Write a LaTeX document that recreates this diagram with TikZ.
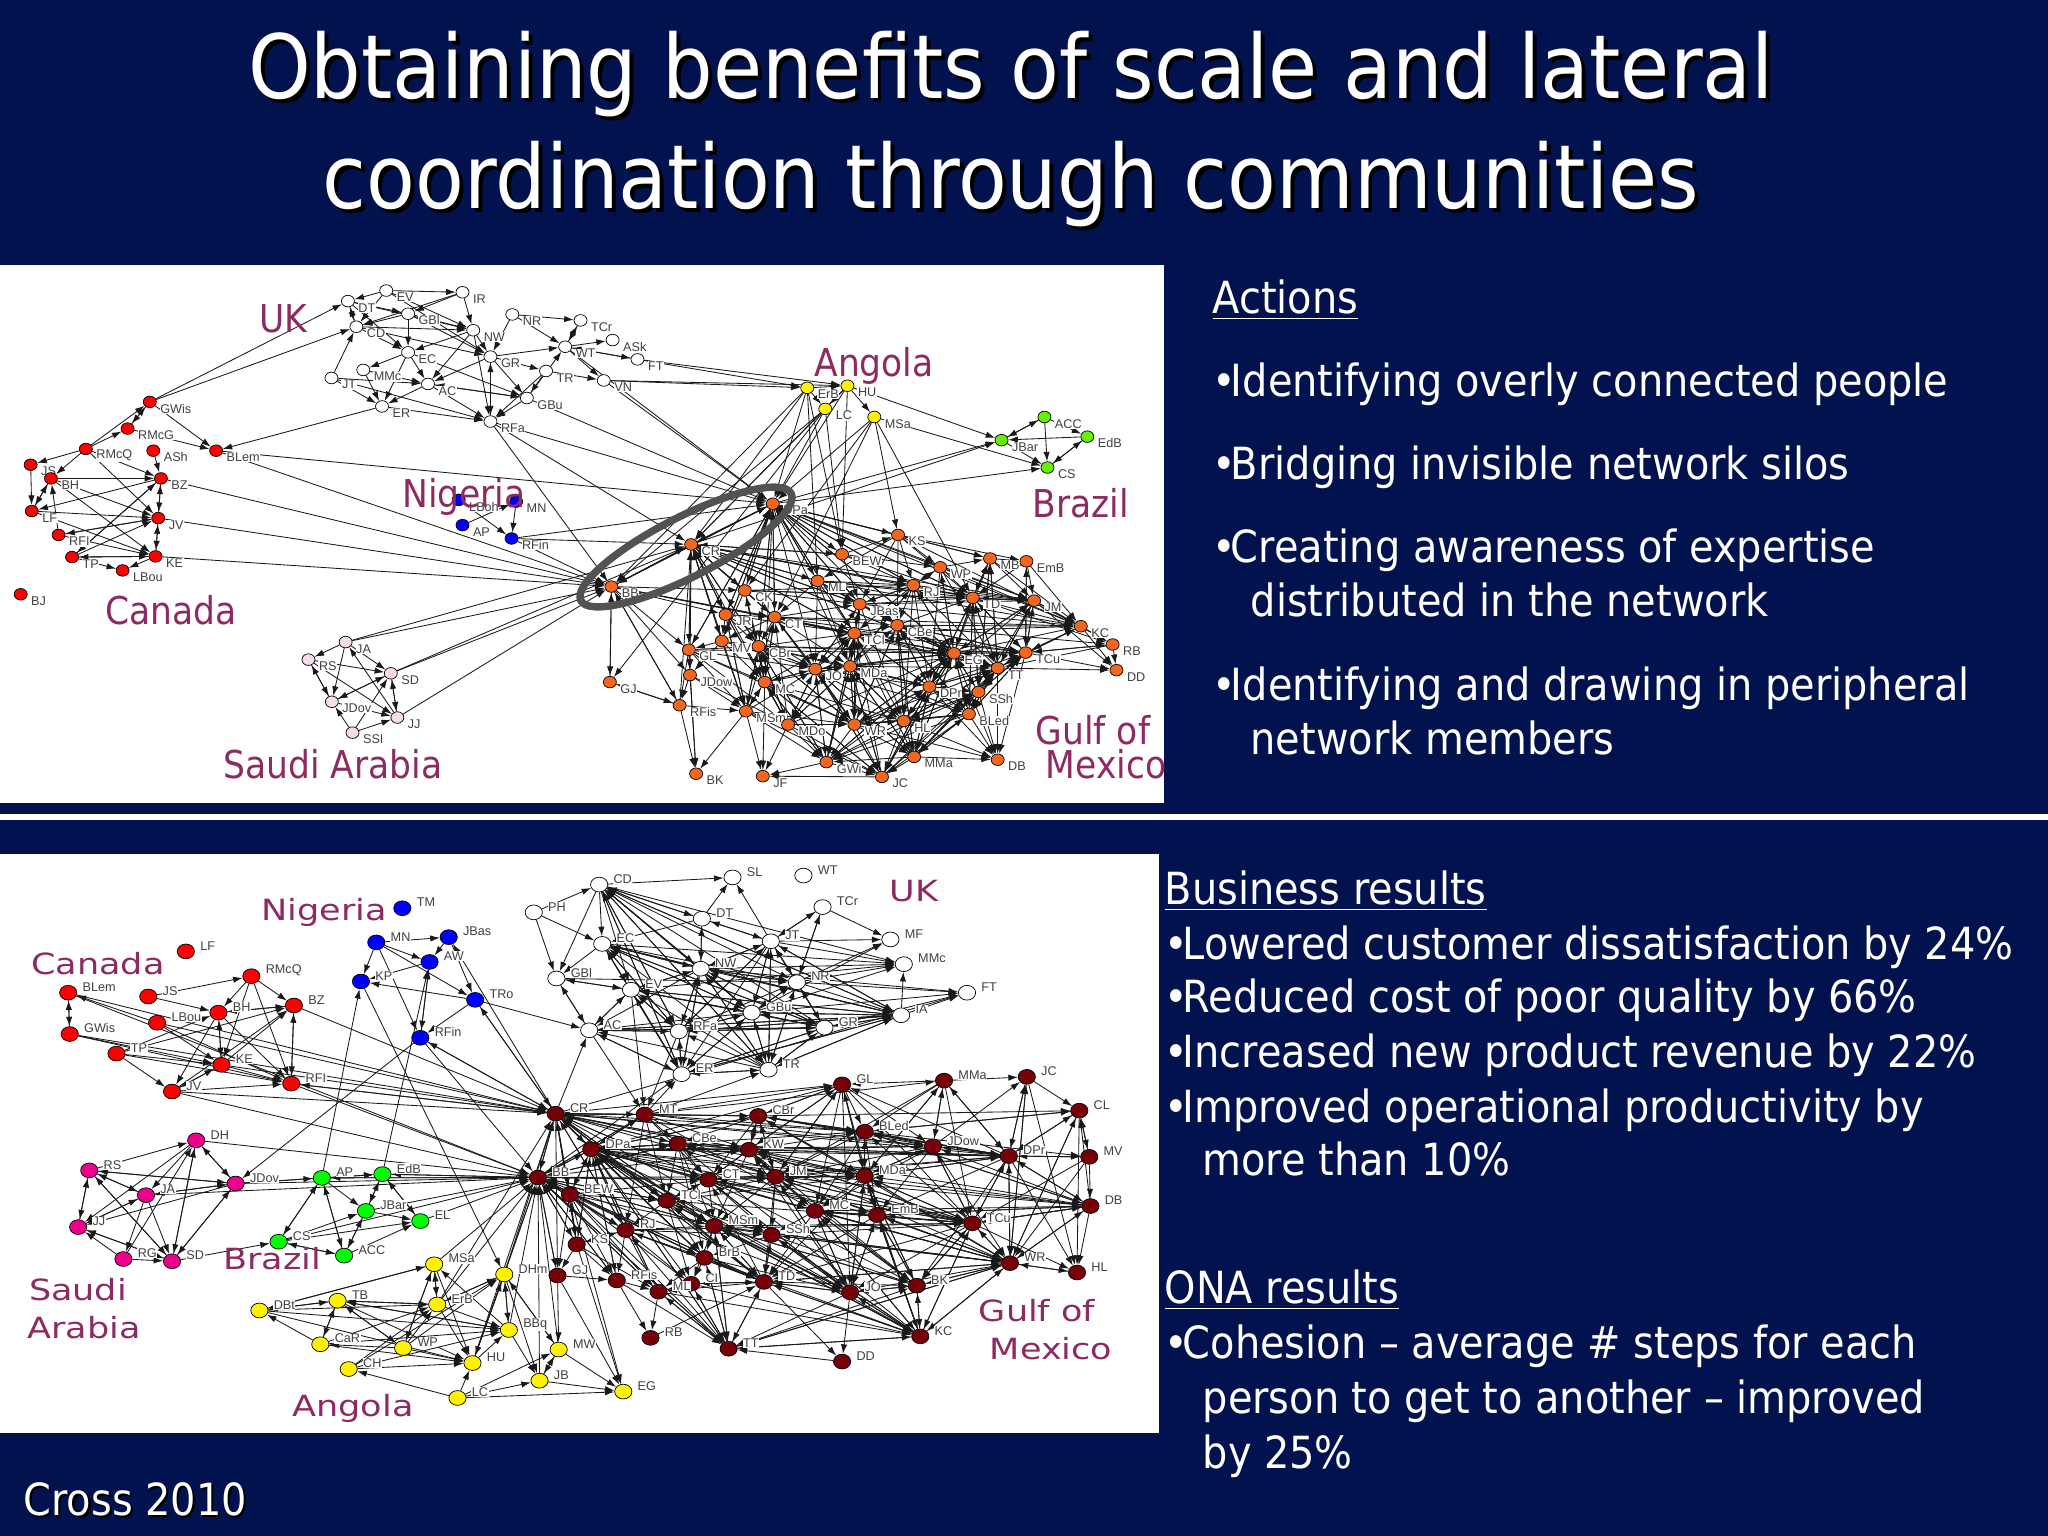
\documentclass[tikz,border=0pt]{standalone}
\usepackage{fontspec}
\setmainfont{DejaVu Sans Condensed}
\newfontfamily\widefont{DejaVu Sans}[FakeStretch=1.2]
\newfontfamily\labfont{Liberation Sans}
\usepackage{tikz}
\usetikzlibrary{positioning, arrows.meta, shapes.geometric, backgrounds}
\definecolor{navy}{HTML}{02124E}
\definecolor{plum}{HTML}{8E2A62}
\definecolor{orangeA}{HTML}{F2661F}
\definecolor{limeA}{HTML}{66F000}
\definecolor{pinkA}{HTML}{F6DCEA}
\definecolor{darkB}{HTML}{780008}

\begin{document}
\begin{tikzpicture}[x=0.01cm, y=-0.01cm, >={Latex[length=2.7pt,width=1.8pt]},
  leftA/.style={shift={(0,260)}, x=0.003827cm, y=-0.003509cm},
  rightA/.style={shift={(580,260)}, x=0.003827cm, y=-0.003509cm},
  leftB/.style={shift={(0,850)}, x=0.003827cm, y=-0.003759cm},
  rightB/.style={shift={(580,850)}, x=0.003827cm, y=-0.003759cm},
  link/.style={->, line width=0.24pt, black!90},
  labA/.style={font=\labfont\fontsize{3.6}{4}\selectfont, text=black!75, fill=white, inner sep=0.15pt, xshift=0.7pt, yshift=-1.9pt},
  labB/.style={font=\labfont\fontsize{3.6}{4}\selectfont, text=black!75, fill=white, inner sep=0.15pt, xshift=1.2pt, yshift=1.6pt},
  dotA/.style={draw=black, line width=0.2pt, ellipse, inner sep=0pt, minimum width=3.7pt, minimum height=3.3pt, fill=#1, label={[labA]right:\nm}},
  dotB/.style={draw=black, line width=0.2pt, ellipse, inner sep=0pt, minimum width=4.9pt, minimum height=4.2pt, fill=#1, label={[labB]right:\nm}},
  tagA/.style={font=\fontsize{10.9}{12}\selectfont, text=plum},
  tagB/.style={font=\widefont\fontsize{8.3}{10}\selectfont, text=plum},
  heading/.style={font=\fontsize{25.2}{31.3}\selectfont, align=center},
  bodyline/.style={anchor=base west, inner sep=0pt, text=white, font=\fontsize{12.6}{15}\selectfont}]
  \useasboundingbox (0,0) rectangle (2048,1536);

  % country clusters, upper network
  \begin{scope}[leftA]
    \foreach \nm/\px/\py in {IR/1207/92, EV/1008/87, DT/908/117, GBl/1065/153, CD/930/190, NW/1235/200, EC/1065/263, GR/1280/275, NR/1337/155, TCr/1515/172, WT/1475/247, TR/1425/316, MMc/948/313, JT/865/336, AC/1117/353, GBu/1375/393, ER/997/417, RFa/1280/460}
      \node[dotA=white] (a\nm) at (\px,\py) {};
    \foreach \nm/\px/\py in {GWis/391/404, RMcG/333/480, RMcQ/224/538, ASh/400/543, BLem/564/543, JS/80/583, BH/133/622, BZ/420/622, LF/83/715, JV/413/735, RFI/153/783, TP/188/846, KE/406/844, LBou/320/884, BJ/54/952}
      \node[dotA=red] (a\nm) at (\px,\py) {};
    \foreach \nm/\px/\py in {LBoh/1197/683, MN/1347/688, AP/1207/755, RFin/1335/793}
      \node[dotA=blue] (a\nm) at (\px,\py) {};
    \foreach \nm/\px/\py in {JA/902/1088, RS/805/1138, SD/1020/1177, JDov/866/1258, JJ/1037/1303, SSI/920/1346}
      \node[dotA=pinkA] (a\nm) at (\px,\py) {};
  \end{scope}
  \begin{scope}[rightA]
    \foreach \nm/\px/\py in {ASk/85/228, FT/150/283, VN/62/343}
      \node[dotA=white] (a\nm) at (\px,\py) {};
    \foreach \nm/\px/\py in {ErB/593/364, HU/698/358, LC/640/424, MSa/768/447}
      \node[dotA=yellow] (a\nm) at (\px,\py) {};
    \foreach \nm/\px/\py in {JBar/1100/513, ACC/1212/447, EdB/1324/503, CS/1220/591}
      \node[dotA=limeA] (a\nm) at (\px,\py) {};
    \foreach \nm/\px/\py in {DPa/503/694, CR/290/810, BB/82/930, KS/830/783, BEW/684/838, MB/1070/850, EmB/1165/858, WP/940/875, ML/620/914, RJ/870/926, CK/430/941, TD/1025/962, JM/1185/970, JBas/730/980, JR/380/1010, CT/508/1017, CBe/828/1040, KC/1307/1043, TCl/716/1063, MV/370/1085, CBr/466/1100, GL/284/1110, RB/1390/1095, EG/976/1120, TCu/1163/1118, MDa/705/1157, JO/614/1165, TT/1090/1162, DD/1400/1168, JDow/287/1182, DPr/912/1215, GJ/78/1202, MC/482/1202, SSh/1040/1230, RFis/260/1268, MSm/433/1285, BLed/1015/1293, MDo/543/1323, WR/716/1323, HL/845/1313, MMa/872/1415, DB/1090/1423, GWi/643/1430, BK/303/1463, JF/477/1470, JC/788/1472}
      \node[dotA=orangeA] (a\nm) at (\px,\py) {};
  \end{scope}

  % country clusters, lower network
  \begin{scope}[leftB]
    \foreach \nm/\px/\py in {PH/1393/166, GBl/1452/342}
      \node[dotB=white] (b\nm) at (\px,\py) {};
    \foreach \nm/\px/\py in {LF/485/270, RMcQ/656/336, BLem/178/380, JS/387/390, BZ/767/414, BH/570/433, LBou/410/460, GWis/182/490, TP/304/542, KE/578/572, RFI/760/622, JV/449/643}
      \node[dotB=red] (b\nm) at (\px,\py) {};
    \foreach \nm/\px/\py in {TM/1050/155, MN/982/246, JBas/1171/232, AW/1121/298, KP/942/350, TRo/1240/399, RFin/1097/500}
      \node[dotB=blue] (b\nm) at (\px,\py) {};
    \foreach \nm/\px/\py in {DH/512/773, RS/233/853, JDov/615/888, JA/381/919, JJ/204/1004, RG/322/1089, SD/449/1095}
      \node[dotB=magenta] (b\nm) at (\px,\py) {};
    \foreach \nm/\px/\py in {AP/840/873, EdB/998/863, JBar/955/961, EL/1097/988, CS/727/1043, ACC/898/1080}
      \node[dotB=green] (b\nm) at (\px,\py) {};
    \foreach \nm/\px/\py in {MSa/1133/1103, DHm/1316/1130, ErB/1141/1210, TB/881/1200, DBt/677/1226, BBq/1328/1278, CaR/836/1316, WP/1052/1326, MW/1458/1330, CH/910/1382, HU/1233/1366, JB/1408/1413, LC/1194/1459}
      \node[dotB=yellow] (b\nm) at (\px,\py) {};
    \foreach \nm/\px/\py in {CR/1450/702, DPa/1543/797, BB/1404/872, BEW/1487/917, KS/1505/1050, GJ/1455/1133}
      \node[dotB=darkB] (b\nm) at (\px,\py) {};
  \end{scope}
  \begin{scope}[rightB]
    \foreach \nm/\px/\py in {CD/50/92, SL/398/73, WT/583/68, TCr/633/152, DT/318/183, JT/498/243, MF/810/238, EC/58/250, MMc/845/304, NW/315/316, NR/566/352, EV/133/372, FT/1010/380, GBu/448/433, IA/838/440, AC/24/480, GR/638/473, RFa/258/483, ER/265/597, TR/492/585}
      \node[dotB=white] (b\nm) at (\px,\py) {};
    \foreach \nm/\px/\py in {GL/684/624, MMa/950/614, JC/1166/604, CL/1303/694, MT/169/704, CBr/465/708, BLed/743/750, CBe/255/782, KW/441/798, JDow/921/789, DPr/1119/815, MV/1329/817, CT/335/878, JM/510/870, MDa/743/868, TCl/226/934, DB/1332/948, MC/613/961, EmB/775/972, TCu/1024/994, MSm/350/1001, RJ/119/1012, SSh/500/1025, BrB/325/1086, WR/1122/1100, HL/1297/1125, CI/290/1155, TD/480/1150, RFis/96/1146, ML/205/1176, JO/705/1178, BK/879/1160, RB/184/1299, KC/888/1295, TT/388/1328, DD/684/1362}
      \node[dotB=darkB] (b\nm) at (\px,\py) {};
    \foreach \nm/\px/\py in {EG/113/1442}
      \node[dotB=yellow] (b\nm) at (\px,\py) {};
  \end{scope}

  \begin{scope}[on background layer]
    \fill[navy] (0,0) rectangle (2048,1536);
    \fill[white] (0,265) rectangle (1164,803);
    \fill[white] (0,854) rectangle (1159,1433);
    \fill[white] (0,814) rectangle (2048,820);

    % who talks to whom, upper network
    \foreach \s/\tl in {GWis/{DT,CD,BLem,RMcG}, RMcG/{GWis,BLem}, RMcQ/{GWis,RMcG,JS,BH,BZ,JV}, ASh/{BZ}, JS/{LF}, BH/{BZ,JV,KE,LF}, LF/{BH,JV,KE}, BZ/{JV,LF,BB,TP}, JV/{BZ,KE,BB,RFI}, RFI/{JV,KE,BH}, TP/{BZ,JV,KE,LBou}, KE/{JV,TP,LBou,BB}, BLem/{DPa,BB}, ER/{BLem,RFa}, LBoh/{RFin}, AP/{MN}, MN/{RFin}, RFin/{CR,BB,DPa}, JA/{RS,JDov,SD,BB,CR}, RS/{SD,JJ,JDov}, SD/{JDov,JJ,BB,CR}, JDov/{RS,SD,JJ}, SSI/{JJ,JDov,SD}, JJ/{SD,JA,BB}}
      {\foreach \t in \tl \draw[link] (a\s) -- (a\t);}
    \foreach \s/\tl in {DT/{GBl,CD,EC,NW}, EV/{DT,IR,NW,GR,CD}, IR/{NW,GBl,CD}, GBl/{CD,NW,EC,GR}, CD/{DT,NW,EC,GR}, NW/{EC,AC,GR,RFa}, EC/{AC,ER,GBu,MMc}, MMc/{AC,ER}, JT/{AC,ER,RFa,CD}, AC/{ER,RFa,GBu}, GR/{AC,TR,GBu,RFa,WT}, TR/{GBu,RFa,VN}, GBu/{AC,RFa,WT,DPa}, NR/{TCr,WT,GR}, WT/{TCr,FT,ASk,VN,DPa}, RFa/{GR,CR,BB,DPa}, FT/{ErB,HU,WT}, VN/{ErB,HU,DPa}, TCr/{WT}}
      {\foreach \t in \tl \draw[link] (a\s) -- (a\t);}
    \foreach \s/\tl in {ErB/{HU,LC,CR,BB,DPa,BEW,ML}, LC/{DPa,CR,BB,BEW,GJ}, HU/{LC,MSa,DPa,CR,JBar,BEW}, MSa/{CS,KS,CT,TD,DPa,CK}, JBar/{ACC,CS}, EdB/{JBar,CS}, ACC/{JBar,EdB,CS}, CS/{EdB}}
      {\foreach \t in \tl \draw[link] (a\s) -- (a\t);}
    \foreach \s/\tl in {DPa/{CR,BB,KS,BEW,ML,CK,CT,JR,CBr,GL,TCl,JBas,WP,RJ,TD,CBe,EG,KC,MB,JM,MV,MC,JO,MDa,JBar,CS}, CR/{DPa,BB,JBar,CK,JR,CT,CBr,GL,MV,ML,TCl,JBas,RJ,EG,JDow,MC,MSm,TD,JM,BEW}, BB/{CR,DPa,GJ,GL,CK,CT,TCl,JR,RFis,EG,JDow}, KS/{WP,MB,EmB,TD,CBe,JBas,RJ,ML,KC}, BEW/{KS,WP,RJ,TD,JBas}, ML/{RJ,JBas,TD,JM,TCl,CT,KC,MDa,JO,CBe,EG}, CK/{CT,JBas,TD,RJ,CBr,MC,MV,JM}, WP/{MB,TD,RJ,EG,TT,JM,KC,DPr}, MB/{EmB,TD,TT,JM,KC,SSh}, EmB/{TCu,JM,TD,KC}, RJ/{WP,TD,JM,JBas,CBe,EG,DPr,HL,MDa,TCl}, TD/{MB,JM,KC,EG,TCu,TT,DPr,SSh,BLed,RB}, JM/{KC,RB,DD,TCu,TD,EG,TT}, JBas/{RJ,TD,JM,CBe,TCl,EG,MDa,JO,WR,KC,HL}, JR/{CT,CBr,MV,TCl,JO,MC,MSm,MDo}, CT/{JBas,TCl,CBe,EG,TCu,JO,MC,CBr,MV,TT,KC,WR,MDa}, CBe/{TD,KC,EG,TCu,TT,DPr,HL,MMa,WR,BLed,RB}, KC/{RB,DD,TCu}, TCl/{CBe,EG,TCu,MDa,JO,DPr,TT,HL,WR,MDo,GWi,KC}, MV/{CBr,GL,JO,MC,MSm,JDow}, CBr/{TCl,JO,MDa,EG,MC,MSm,MDo,WR,GWi,TCu,DPr}, GL/{JDow,RFis,MSm,CBr,JO,MC,MDo,WR,EG,BK}, RB/{DD,TCu,TT}, EG/{TCu,TT,DPr,SSh,BLed,HL,MMa,DB,WR,JC,GWi}, TCu/{TT,DD,SSh,RB,BLed,DB}, MDa/{EG,DPr,HL,WR,JC,GWi,MMa,BLed,MDo,TT,TCu}, JO/{MDa,DPr,WR,HL,MDo,GWi,JC,MMa,EG,BLed}, TT/{DD,SSh,BLed,DB,DPr,HL,MMa}, JDow/{RFis,MSm,MDo,BK}, GJ/{RFis}, DPr/{BLed,HL,SSh,WR,MMa,JC,DB}, MC/{MSm,MDo,WR,HL,GWi,JC,JO,JF}, SSh/{BLed,DB,HL,MMa,TT}, RFis/{BK,MSm,GJ}, MSm/{MDo,BK,JF,GWi,JC,WR}, BLed/{HL,WR,MMa,DB,GWi,JC}, MDo/{WR,GWi,JC,JF}, WR/{HL,GWi,JC,MMa,DB}, HL/{MMa,JC,DB,GWi}, MMa/{DB,JC,GWi}, GWi/{JC,JF}, JC/{JF}}
      {\foreach \t in \tl \draw[link] (a\s) -- (a\t);}
    \foreach \s/\tl in {CK/{DPa,CR}, JR/{DPa,CR}, CT/{DPa,CR}, CBr/{DPa,CR}, GL/{DPa,CR}, ML/{DPa,CR}, JBas/{DPa,CR}, TCl/{DPa,CR}, BEW/{DPa,CR}, MV/{DPa,CR}, KS/{DPa}, RJ/{DPa,CR}, TD/{DPa}, EG/{DPa,CR}, RFis/{CR,BB}, GJ/{BB}, JC/{TT,EG,JO,MDa,MC,TCl,DPr,SSh}, GWi/{MDa,JO,EG,TCl,CBr,MC,DPr,SSh}, MMa/{EG,DPr,SSh,JO,MDa,TCl,CBe,BLed,TT}, WR/{EG,DPr,MDa,JO,TCl,CBr,MC,SSh,BLed,TT,CBe}, HL/{EG,DPr,SSh,BLed,TT,MDa,TCu,CBe}, BLed/{EG,DPr,SSh,TT,TCu,TD,CBe}, DPr/{EG,TT,TCu,CBe,MDa,TCl,JM,TD}, SSh/{EG,TCu,TD,MB,JM,DPr}, TT/{EG,TCu,TD,JM,KC,RJ,MB}, EG/{TD,RJ,CBe,WP,TCl,JBas,KC,JM,MB,JO}, TCu/{TD,JM,EG,KC,CBe,EmB}, MDa/{TCl,JBas,CBe,RJ}, JO/{TCl,CT,CBr,JBas,MC}, MC/{CT,CBr,TCl,CK,MDa}, MDo/{CBr,MC,JO,TCl,MDa,CT,EG}, MSm/{CT,CBr,JR,JO,MC}}
      {\foreach \t in \tl \draw[link] (a\s) -- (a\t);}

    % who talks to whom, lower network
    \foreach \s/\tl in {JS/{RMcQ,BH}, RMcQ/{BZ,BH,KE,RFI}, BLem/{GWis}, GWis/{BLem,KE,RFI}, LBou/{BLem,KE,RFI}, BZ/{RFI,BH,CR}, BH/{KE,RFI,JV,BZ}, TP/{KE,RFI,JV,BZ,BH}, KE/{BH,JV,BZ,RFI,CR}, JV/{KE,RFI,BZ,BB,CR}, RFI/{BZ,CR,BB}, CR/{RFI,TRo,JBas}, MN/{JBas,AW,KP,TRo,RFin}, JBas/{AW,TRo}, AW/{RFin,KP}, TRo/{KP,RFin,AC,CR}, RFin/{AW,CR,BB,JDov}, AP/{KP}, EdB/{AW}, KP/{DHm}, BB/{AP,EdB}, BLem/{CR,BB}, LBou/{CR}, GWis/{CR}}
      {\foreach \t in \tl \draw[link] (b\s) -- (b\t);}
    \foreach \s/\tl in {RS/{DH,JDov,JJ,JA,SD}, DH/{JDov,JA,JJ,SD,BB}, JDov/{DH,JA,SD,JJ,RS,AP,EdB,BB}, JA/{JDov,SD,RS,RG,JJ,BB}, JJ/{SD,RS,JA}, RG/{SD,JJ,DH}, SD/{DH,RS,JJ,CS,JDov}, AP/{ACC,CS,JBar,EdB,BB}, EdB/{JBar,EL,BB}, JBar/{EdB,EL,ACC,BB}, CS/{AP,JBar,EL,ACC,BB}, ACC/{AP,JBar,CS,EL}, EL/{BB,EdB}, MSa/{ErB,DBt,HU,BB,WP}, DBt/{MSa,TB,ErB,BBq,HU}, TB/{CaR,ErB,BBq,WP,HU,DBt}, CaR/{TB,DBt,ErB,HU,BBq}, WP/{MSa,ErB,CaR,DHm,TB,HU}, ErB/{MSa,DHm,BBq,HU,TB,BB,CR}, DHm/{BBq,HU,MW,JB,BB,CR,ErB}, BBq/{JB,TB,MSa,DHm,BB}, CH/{DHm,HU,BBq,ErB}, LC/{CH,HU,JB,MW,EG}, MW/{JB,EG,BB,DHm}, JB/{MW,EG,BB}, HU/{DHm,BB,BBq,CR}, GJ/{MW,RFis}}
      {\foreach \t in \tl \draw[link] (b\s) -- (b\t);}
    \foreach \s/\tl in {PH/{CD,EC,GBl}, CD/{SL,DT,EC,EV,NW,RFa,GBu,TR,ER,GBl,NR,MMc,IA}, JT/{SL,DT,NW,NR,MMc,TCr,MF,ER,RFa,GBu,TR,IA}, DT/{SL,JT,NW,EC,CD}, TCr/{MF,JT,NR}, NR/{TCr,MF,MMc,FT,GR,JT,IA,GBu,NW,TR}, EC/{MMc,NW,NR,EV,RFa,GBu,GBl,ER,GR,IA}, NW/{EC,EV,JT,GBu,RFa,GR,TR,ER,DT,FT,NR,CD,AC,MMc}, EV/{GBl,AC,RFa,ER,NW,GBu,IA,MT,MMc}, GBu/{GR,IA,TR,ER,RFa,FT,NW,MMc,EV,EC,JT,CD,AC,MF,NR}, GR/{IA,RFa,TR,ER,NR,AC,FT,EV,NW,EC,JT,GBu,CD}, IA/{FT,GR,MMc,RFa,TR,ER,AC,NW,JT,EC,EV,CD,GBu}, AC/{RFa,ER,GBl,GR,IA,MT,EV}, RFa/{ER,GR,IA,NR,MT,EV,NW,EC,CD,JT,GBu,AC}, ER/{TR,RFa,GR,GBu,EV,NW,EC,CD,AC,IA}, TR/{ER,GR,IA,GBu,JT,NR,EV,NW,RFa,AC,EC,CD}, GBl/{AC,EV,NR}, MT/{ER,TR}, CR/{AC,FT}, BB/{ER}}
      {\foreach \t in \tl \draw[link] (b\s) -- (b\t);}
    \foreach \s/\tl in {CR/{MT,DPa,BB,BEW,RFin,CBr,CBe,KW,JM,BLed,CT,TCl,RJ,MSm,BrB,KS,GJ,MDa,GL,JDow,DPr,SSh,TD}, DPa/{CR,MT,BB,BEW,KS,RJ,TCl,CT,CBe,KW,JM,MSm,BrB,CBr,GL,MC,EmB,TCu,SSh,TD,CI,ML,RFis,JDow,DPr,MDa,WR,JO,KC,TT,BLed,DB}, BB/{CR,DPa,BEW,KS,GJ,CBe,CT,TCl,RJ,MSm,BrB,ML,RFis,TT,TD,JO,KW,JM,MT}, BEW/{KS,RJ,TCl,GJ,RFis,ML,CT,MSm,BrB,TT,CI,EG}, MT/{CBr,CBe,KW,BLed,CT,GL,JDow,TCl,RJ,MMa,MC}, KS/{GJ,RJ,RFis,EG,ML,BEW}, CBr/{GL,BLed,CBe,KW,JDow,DPr,JM,CT,MDa,CL}, GL/{BLed,MDa,JM,KW,MC,JDow,EmB,CBr,TCu,JO}, MMa/{BLed,JDow,DPr,TCu,JM,MDa,JC,GL}, JC/{DPr,WR,HL,CL}, CL/{DPr,MV,HL,WR,BLed}, BLed/{MDa,JDow,DPr,CL,MC,MV,EmB,DB,CBr}, JDow/{DPr,MDa,EmB,TCu,WR,MMa,JC,JM,MC}, DPr/{MV,JC,CL,WR,DB,HL,TCu,MDa,EmB,BK}, MV/{DB,CL,TCu,WR,DPr}, DB/{HL,TCu,WR,CL,MC,EmB,MDa}, KW/{JM,CT,MDa,MSm,MC,TCu,DPr,CBe,BK}, CBe/{CT,TCl,KW,JM,DPr,MDa,MSm,BrB}, CT/{TCl,MSm,JM,MC,EmB,SSh,JO,BK,TCu}, JM/{MDa,MC,EmB,TCu,MSm,SSh,TD,JO}, MDa/{MC,EmB,TCu,WR,JO,DPr,KC,TD,BK}, TCl/{MSm,RJ,BrB,CT,JM,CI,TD,SSh,MDa,KC}, MC/{EmB,JO,TCu,BK,TD,KC,WR,SSh}, EmB/{TCu,BK,JO,KC,WR,DB,TD}, TCu/{WR,KC,BK,HL,JO,TD,DPr}, RJ/{BrB,RFis,MSm,ML,CI,SSh,KS,TD}, MSm/{SSh,BrB,TD,CI,TT,JO,KC,BK,WR}, SSh/{TCu,WR,JO,TD,KC,BrB,BK}, BrB/{TD,CI,ML,TT,JO,KC}, WR/{HL,BK,KC,JO,TD,TT}, HL/{WR}, CI/{TD,TT,ML,KC}, TD/{JO,KC,TT,DD,BK,ML}, RFis/{ML,RB,TT}, ML/{TT,CI,KC,RB}, JO/{BK,KC,TT,TD,DD}, BK/{KC}, RB/{TD}, KC/{TT,BK}, DD/{TT}, TT/{TD}, GJ/{EG}}
      {\foreach \t in \tl \draw[link] (b\s) -- (b\t);}
    \foreach \s/\tl in {TCu/{MC,MDa,JM,KW,CT,TCl,CBe,RJ,MSm,BLed,JDow,DB}, WR/{DPr,EmB,MC,MDa,JM,KW,CBr,MSm,SSh,CL,JC,DB,TCu}, DB/{DPr,JDow,BLed,KW,TCu,JM}, KC/{JO,MC,EmB,MDa,TCu,SSh,MSm,CBe,WR,TD}, BK/{MC,EmB,TCu,JO,MDa,JM,MSm,WR}, JO/{MC,EmB,MDa,SSh,KW,MSm,TCl,JM,CT}, TD/{MSm,SSh,RJ,BrB,TCl,CT,WR,CI}, TT/{BrB,RJ,MSm,ML,CI,BK,KC,WR}, DPr/{BLed,JDow,KW,CBr,JM,GL,MMa,CBe,CT}, JM/{CBr,KW,GL,CBe,BLed,CT}, MDa/{BLed,JDow,GL,MMa,JM,CBr,KW,CT}, KW/{CBr,GL,BLed,JDow,CT}, MT/{DPa,CR,BB}, CBe/{DPa,CR,BB}, CT/{DPa,CR,BB}, TCl/{DPa,CR,BB}, RJ/{DPa,CR,BB}, MSm/{DPa,CR,BB}, BrB/{DPa,CR,BB}, KS/{DPa,CR,BB}, BEW/{DPa,CR,BB}, GJ/{BB}, RFis/{DPa,BB}, ML/{DPa,BB}, KW/{DPa,CR}, CBr/{DPa,CR}, TD/{DPa,BB}, TT/{DPa,BB}}
      {\foreach \t in \tl \draw[link] (b\s) -- (b\t);}
  \end{scope}

  \draw[black!68, line width=2.1pt, rotate around={27:(686,547)}] (686,547) ellipse [x radius=118, y radius=30];

  % cluster names
  \node[tagA] (ukA) at (283,319) {UK};
  \node[tagA] (angolaA) at (874,366) {Angola};
  \node[tagA] (nigeriaA) at (464,497) {Nigeria};
  \node[tagA] (brazilA) at (1081,503) {Brazil};
  \node[tagA] (canadaA) at (171,610) {Canada};
  \node[tagA] (saudiA) at (333,764) {Saudi Arabia};
  \node[tagA] (gulfA) at (1093,730) {Gulf of};
  \node[tagA] (mexicoA) at (1106,764) {Mexico};
  \node[tagB] (nigeriaB) at (324,912) {Nigeria};
  \node[tagB] (canadaB) at (98,964) {Canada};
  \node[tagB] (ukB) at (914,891) {UK};
  \node[tagB] (brazilB) at (272,1259) {Brazil};
  \node[tagB] (saudiB) at (78,1290) {Saudi};
  \node[tagB] (arabiaB) at (84,1328) {Arabia};
  \node[tagB] (angolaB) at (353,1408) {Angola};
  \node[tagB] (gulfB) at (1037,1311) {Gulf of};
  \node[tagB] (mexicoB) at (1051,1349) {Mexico};

  % slide text
  \node[heading, text=black, xshift=1.1pt, yshift=-1.1pt] (titleshadow) at (1011,129) {Obtaining benefits of scale and lateral\\coordination through communities};
  \node[heading, text=white] (title) at (1011,129) {Obtaining benefits of scale and lateral\\coordination through communities};

  \node[bodyline] (actions) at (1212,313) {\underline{Actions}};
  \node[bodyline] (act1) at (1212,396) {•\kern-1.5pt Identifying overly connected people};
  \node[bodyline] (act2) at (1212,479) {•\kern-1.5pt Bridging invisible network silos};
  \node[bodyline] (act3) at (1212,562) {•\kern-1.5pt Creating awareness of expertise};
  \node[bodyline] (act3b) at (1250,616) {distributed in the network};
  \node[bodyline] (act4) at (1212,700) {•\kern-1.5pt Identifying and drawing in peripheral};
  \node[bodyline] (act4b) at (1250,754) {network members};

  \node[bodyline] (business) at (1164,904) {\underline{Business results}};
  \node[bodyline] (res1) at (1164,959) {•\kern-1.5pt Lowered customer dissatisfaction by 24\%};
  \node[bodyline] (res2) at (1164,1012) {•\kern-1.5pt Reduced cost of poor quality by 66\%};
  \node[bodyline] (res3) at (1164,1067) {•\kern-1.5pt Increased new product revenue by 22\%};
  \node[bodyline] (res4) at (1164,1122) {•\kern-1.5pt Improved operational productivity by};
  \node[bodyline] (res4b) at (1202,1175) {more than 10\%};
  \node[bodyline] (ona) at (1164,1303) {\underline{ONA results}};
  \node[bodyline] (ona1) at (1164,1358) {•\kern-1.5pt Cohesion – average \# steps for each};
  \node[bodyline] (ona1b) at (1202,1413) {person to get to another – improved};
  \node[bodyline] (ona1c) at (1202,1468) {by 25\%};

  \node[bodyline, text=black, xshift=0.6pt, yshift=-0.6pt] (crossshadow) at (23,1515) {Cross 2010};
  \node[bodyline] (cross) at (23,1515) {Cross 2010};
\end{tikzpicture}
\end{document}
